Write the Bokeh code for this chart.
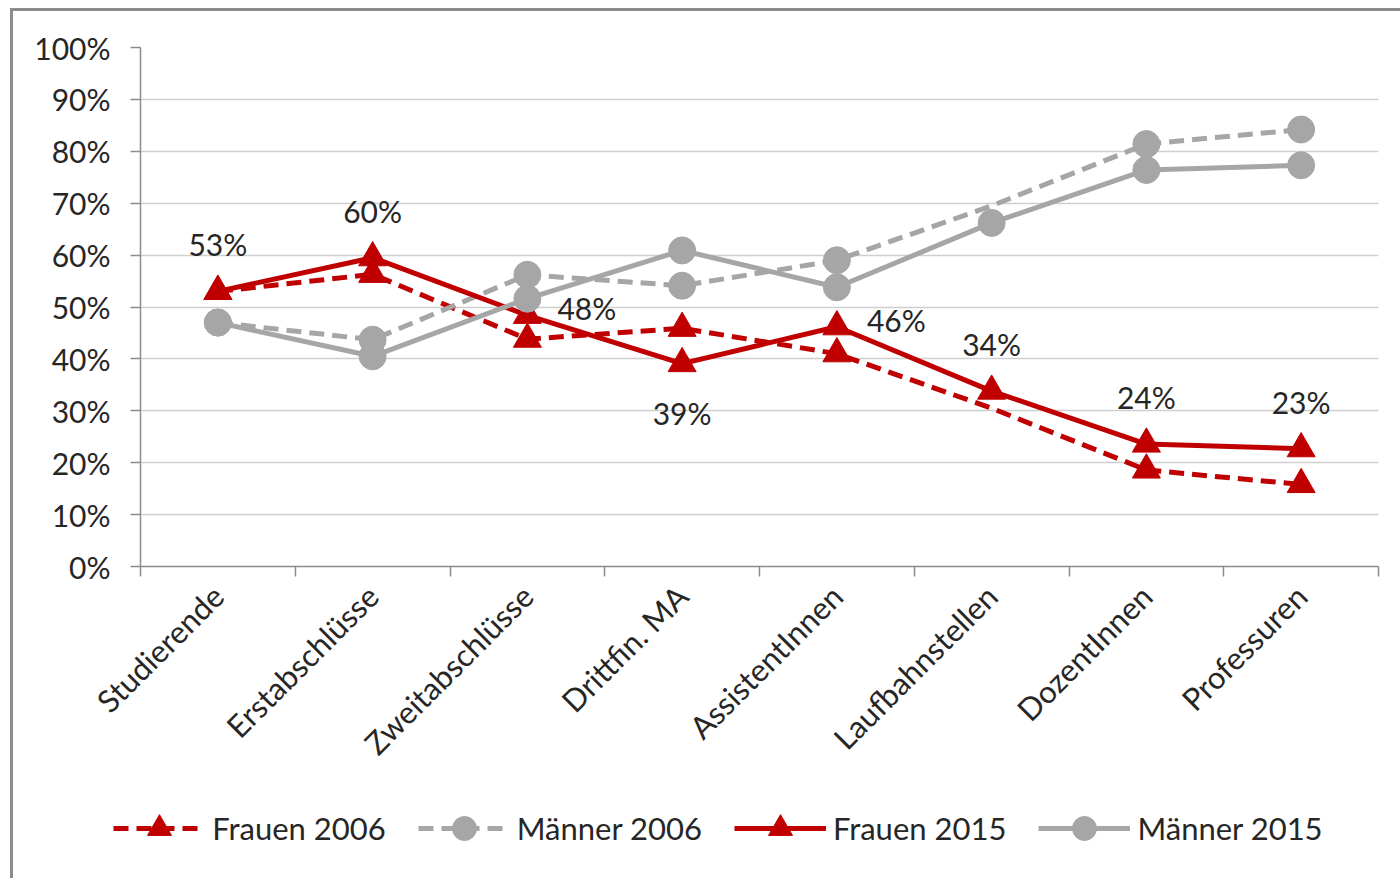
from bokeh.plotting import figure
from bokeh.layouts import column
from bokeh.models import FixedTicker, Legend, LegendItem, ColumnDataSource
from bokeh.core.properties import value
from bokeh.embed import file_html
from bokeh.resources import INLINE
import math

categories = ["Studierende", "Erstabschlüsse", "Zweitabschlüsse", "Drittfin. MA",
              "AssistentInnen", "Laufbahnstellen", "DozentInnen", "Professuren"]
frauen_2006 = [53, 56.3, 43.8, 45.9, 41.0, 30.5, 18.6, 15.8]
maenner_2006 = [47, 43.7, 56.2, 54.1, 59.0, 69.5, 81.4, 84.2]
frauen_2015 = [53, 59.5, 48.4, 39.1, 46.2, 33.8, 23.6, 22.7]
maenner_2015 = [47, 40.5, 51.6, 60.9, 53.8, 66.2, 76.4, 77.3]
marker_2006_shown = [True, True, True, True, True, False, True, True]
frauen_2015_labels = ["53%", "60%", "48%", "39%", "46%", "34%", "24%", "23%"]
label_place = ["above", "above", "right", "below", "right", "above", "above", "above"]
series_names = ["Frauen 2006", "Männer 2006", "Frauen 2015", "Männer 2015"]
y_ticks = [0, 10, 20, 30, 40, 50, 60, 70, 80, 90, 100]

RED = "#C00000"
GRAY = "#A6A6A6"
FONT = "Lato"
TXT = "#262626"
AX = "#8c8c8c"
DASH = "15 8"
LW = 5

xs = list(range(len(categories)))

p = figure(frame_width=1238, frame_height=519, output_backend="svg", toolbar_location=None,
           x_range=(-0.5, len(categories) - 0.5), y_range=(0, 100),
           min_border_left=127, min_border_top=36, min_border_right=22, min_border_bottom=0)
p.outline_line_color = None
p.background_fill_color = "white"
p.border_fill_color = "white"

# axes
p.xaxis.ticker = FixedTicker(ticks=xs, minor_ticks=[i - 0.5 for i in range(len(categories) + 1)])
p.xaxis.major_label_overrides = {i: c for i, c in enumerate(categories)}
p.xaxis.major_label_orientation = math.pi / 4
p.xaxis.major_tick_out = 0
p.xaxis.major_tick_in = 0
p.xaxis.minor_tick_out = 10
p.xaxis.minor_tick_in = 0
p.xaxis.minor_tick_line_color = AX
p.xaxis.minor_tick_line_width = 1.5
p.xaxis.axis_line_color = AX
p.xaxis.axis_line_width = 1.5
p.xaxis.major_label_standoff = 14
p.xaxis.major_label_text_font = FONT
p.xaxis.major_label_text_font_size = "31px"
p.xaxis.major_label_text_color = TXT

p.yaxis.ticker = FixedTicker(ticks=y_ticks, minor_ticks=[])
p.yaxis.major_label_overrides = {t: f"{t}%" for t in y_ticks}
p.yaxis.major_tick_out = 10
p.yaxis.major_tick_in = 0
p.yaxis.major_tick_line_color = AX
p.yaxis.major_tick_line_width = 1.5
p.yaxis.axis_line_color = AX
p.yaxis.axis_line_width = 1.5
p.yaxis.major_label_standoff = 20
p.yaxis.major_label_text_font = FONT
p.yaxis.major_label_text_font_size = "30px"
p.yaxis.major_label_text_color = TXT

p.xgrid.grid_line_color = None
p.ygrid.ticker = FixedTicker(ticks=y_ticks)
p.ygrid.grid_line_color = "#cfcfcf"
p.ygrid.grid_line_width = 1.5

styles = [(frauen_2006, RED, "triangle", DASH, marker_2006_shown),
          (maenner_2006, GRAY, "circle", DASH, marker_2006_shown),
          (frauen_2015, RED, "triangle", "solid", None),
          (maenner_2015, GRAY, "circle", "solid", None)]

def msize(marker):
    return 28 if marker == "triangle" else 27

for vals, color, marker, dash, shown in styles:
    if shown is None:
        shown = [True] * len(vals)
    p.line(xs, vals, line_color=color, line_width=LW, line_dash=dash)
    mx = [x for x, s in zip(xs, shown) if s]
    my = [v for v, s in zip(vals, shown) if s]
    p.scatter(mx, my, marker=marker, size=msize(marker), fill_color=color, line_color=color)

# data labels for Frauen 2015
for place, xo, yo, align in [("above", 0, 47, "center"),
                             ("below", 0, -49, "center"),
                             ("right", 30, 7, "left")]:
    idx = [i for i, pl in enumerate(label_place) if pl == place]
    src = ColumnDataSource(dict(x=[xs[i] for i in idx], y=[frauen_2015[i] for i in idx],
                                t=[frauen_2015_labels[i] for i in idx]))
    p.text(x="x", y="y", text="t", source=src, x_offset=xo, y_offset=-yo,
           text_font=value(FONT), text_font_size="30px", text_color=TXT,
           text_align=align, text_baseline="middle")

# legend in its own strip below the chart (series drawn off-range, only their legend samples show)
lg = figure(frame_width=1266, frame_height=100, output_backend="svg", toolbar_location=None,
            x_range=(1000, 1001), y_range=(1000, 1001),
            x_axis_location=None, y_axis_location=None,
            min_border_left=99, min_border_right=22, min_border_top=0, min_border_bottom=0)
lg.grid.grid_line_color = None
lg.outline_line_color = None
lg.border_fill_color = "white"
lg.background_fill_color = "white"
items = []
for name, (vals, color, marker, dash, shown) in zip(series_names, styles):
    l = lg.line(xs, vals, line_color=color, line_width=LW, line_dash=dash)
    m = lg.scatter(xs, vals, marker=marker, size=msize(marker), fill_color=color, line_color=color)
    items.append(LegendItem(label=name, renderers=[l, m]))
legend = Legend(items=items, orientation="horizontal", location=(60, 20),
                label_text_font=FONT, label_text_font_size="31px", label_text_color=TXT,
                glyph_width=92, glyph_height=60, spacing=32, label_standoff=7,
                border_line_color=None, background_fill_alpha=0, margin=0, padding=0)
lg.add_layout(legend, "center")

layout = column(p, lg, spacing=0)
layout.styles = {"border-left": "3px solid #8c8c8c", "border-top": "3px solid #8c8c8c",
                 "margin-left": "10px", "margin-top": "8px"}

open("out.html", "w").write(file_html(layout, INLINE))
